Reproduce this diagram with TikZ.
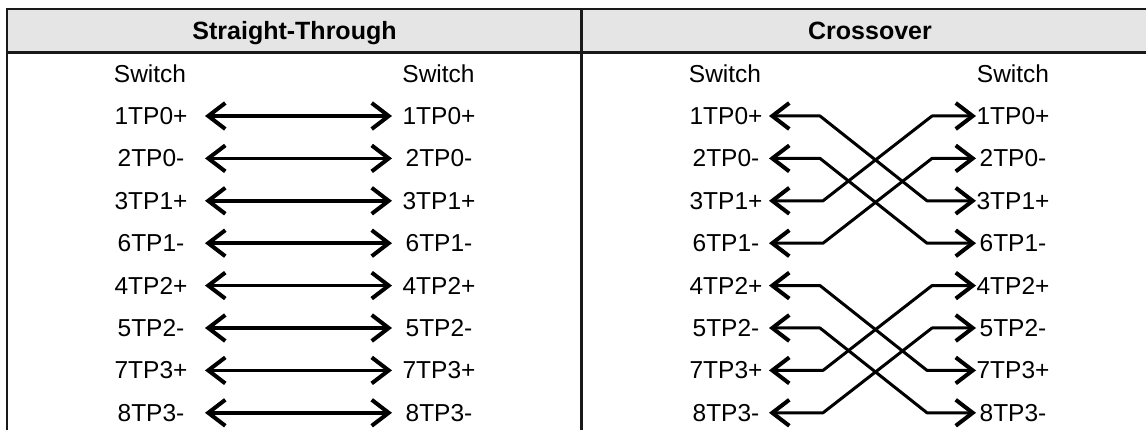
\documentclass[tikz,border=0pt]{standalone}
\usepackage{fontspec}
\setmainfont{Liberation Sans}
\usetikzlibrary{arrows.meta}

\tikzset{
	lab/.style={font=\fontsize{24.5}{26}\selectfont,inner sep=0pt,anchor=base},
	head/.style={font=\fontsize{25}{27}\selectfont\bfseries,inner sep=0pt,anchor=base},
	rule/.style={line width=2.2pt,draw=black!90},
	barb/.tip={Straight Barb[length=17pt,width=26pt,line width=4pt]},
	wire/.style={line width=3.5pt,barb-barb},
	xwire/.style={line width=3pt,line join=round,barb-barb}
}

\begin{document}
\begin{tikzpicture}[x=1pt,y=-1pt]
	\useasboundingbox (0,0) rectangle (1146,430);
	\clip (0,0) rectangle (1146,430);
	\pgfmathsetmacro\ROW{42.4}
	\pgfmathsetmacro\TOP{124.5}
	% table frame
	\fill[black!10] (7,9) rectangle (1150,52.5);
	\draw[rule] (1150,9) -- (7,9) -- (7,440);
	\draw[rule] (7,52.5) -- (1150,52.5);
	\draw[rule] (581.5,9) -- (581.5,440);
	\node[head] (HeadST) at (294.5,39.5) {Straight-Through};
	\node[head] (HeadCO) at (870,39.5) {Crossover};
	\node[lab] (SwSL) at (150,83) {Switch};
	\node[lab] (SwSR) at (438.5,83) {Switch};
	\node[lab] (SwCL) at (725,83) {Switch};
	\node[lab] (SwCR) at (1013,83) {Switch};

	% labels and end points, row by row
	\foreach \i/\pin in {1/1TP0+,2/2TP0-,3/3TP1+,4/6TP1-,5/4TP2+,6/5TP2-,7/7TP3+,8/8TP3-} {
		\pgfmathsetmacro\Y{\TOP+(\i-1)*\ROW}
		\node[lab] (SL\i) at (151,\Y) {\pin};
		\node[lab] (SR\i) at (439,\Y) {\pin};
		\node[lab] (CL\i) at (726,\Y) {\pin};
		\node[lab] (CR\i) at (1013,\Y) {\pin};
		\coordinate (SLa\i) at (205,\Y-8.5);
		\coordinate (SRa\i) at (392,\Y-8.5);
		\coordinate (CLa\i) at (769,\Y-8.5);
		\coordinate (CRa\i) at (976,\Y-8.5);
		\draw[wire] (SLa\i) -- (SRa\i);
	}

	% crossover wires: 1,2 <-> 3,6 and 4,5 <-> 7,8
	\foreach \a/\b in {1/3,2/4,5/7,6/8} {
		\draw[xwire] (CLa\a) -- ([xshift=51]CLa\a) -- ([xshift=-49]CRa\b) -- (CRa\b);
		\draw[xwire] (CLa\b) -- ([xshift=54]CLa\b) -- ([xshift=-44]CRa\a) -- (CRa\a);
	}
\end{tikzpicture}
\end{document}
